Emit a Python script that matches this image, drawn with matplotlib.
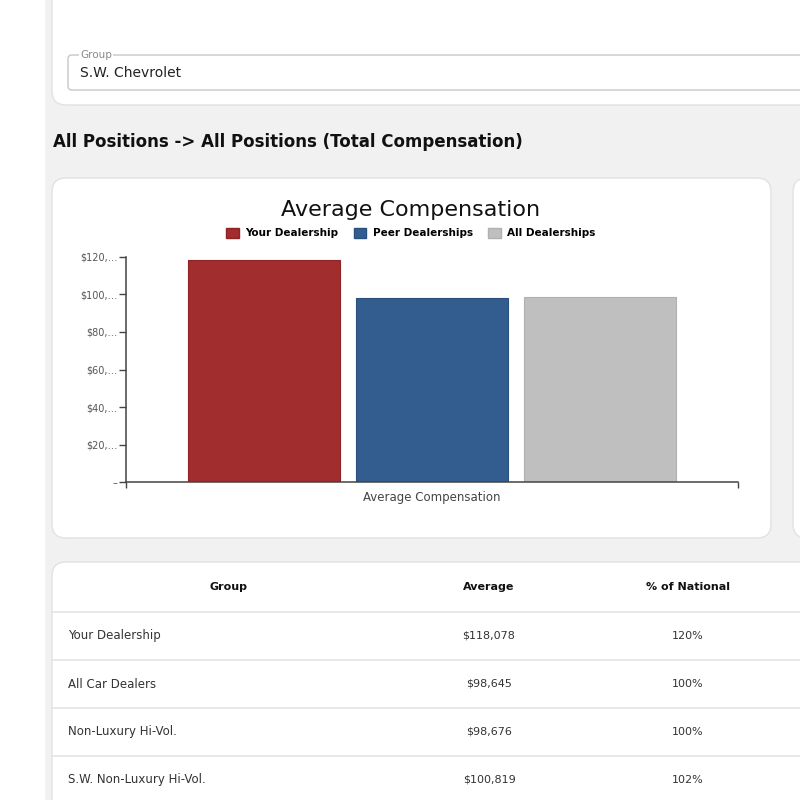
import matplotlib
matplotlib.use("Agg")
import matplotlib.pyplot as plt
from matplotlib.patches import FancyBboxPatch, Rectangle, Patch

plt.rcParams['font.family'] = ['DejaVu Sans']

# chart data
series_labels = ["Your Dealership", "Peer Dealerships", "All Dealerships"]
series_values = [118078, 97900, 98800]
series_colors = ["#a22d2f", "#345d8f", "#bfbfbf"]
series_edges = ["#8e2224", "#2a4f7c", "#b0b0b0"]
category = "Average Compensation"
y_ticks = [0, 20000, 40000, 60000, 80000, 100000, 120000]
y_ticklabels = ["–", "$20,…", "$40,…", "$60,…", "$80,…", "$100,…", "$120,…"]

# table data
table_cols = ["Group", "Average", "% of National"]
table_groups = ["Your Dealership", "All Car Dealers", "Non-Luxury Hi-Vol.", "S.W. Non-Luxury Hi-Vol."]
table_avgs = [118078, 98645, 98676, 100819]
table_pcts = [120, 100, 100, 102]

fig = plt.figure(figsize=(8, 8), dpi=100)
fig.patch.set_facecolor("#f1f1f1")

# page background drawn in pixel coords
bg = fig.add_axes([0, 0, 1, 1])
bg.set_xlim(0, 800)
bg.set_ylim(800, 0)
bg.axis("off")
bg.add_patch(Rectangle((0, 0), 44, 800, color="white", zorder=0))


def card(x0, y0, x1, y1, r=14):
    bg.add_patch(FancyBboxPatch((x0 + r, y0 + r), x1 - x0 - 2 * r, y1 - y0 - 2 * r,
                                boxstyle=f"round,pad={r}", fc="white", ec="#e2e2e2",
                                lw=1, zorder=1))


card(52, -40, 840, 105)
card(52, 178, 771, 538)
card(793, 178, 840, 538)
card(52, 562, 840, 840)

# group selector
bg.add_patch(FancyBboxPatch((68 + 4, 55 + 4), 760, 27, boxstyle="round,pad=4",
                            fc="white", ec="#c8c8c8", lw=1, zorder=2))
bg.text(80, 55, "Group", fontsize=7.5, color="#8a8a8a", va="center", zorder=3,
        bbox=dict(fc="white", ec="none", pad=1))
bg.text(80, 73, "S.W. Chevrolet", fontsize=10, color="#222222", va="center", zorder=3)

bg.text(53, 142, "All Positions -> All Positions (Total Compensation)", fontsize=12,
        fontweight="bold", color="#111111", va="center")

# chart title
bg.text(411, 210, "Average Compensation", fontsize=16, color="#111111",
        ha="center", va="center", zorder=3)

# table
for yy in [612, 660, 708, 756]:
    bg.plot([52, 800], [yy, yy], color="#e4e4e4", lw=1.2, zorder=2)
col_x = [229, 489, 688]
for cx, name in zip(col_x, table_cols):
    bg.text(cx, 587, name, fontsize=8, fontweight="bold", color="#111111",
            ha="center", va="center", zorder=3)
for i, (g, a, p) in enumerate(zip(table_groups, table_avgs, table_pcts)):
    yy = 636 + 48 * i
    bg.text(68, yy, g, fontsize=8.5, color="#333333", va="center", zorder=3)
    bg.text(col_x[1], yy, f"${a:,}", fontsize=8, color="#333333", ha="center", va="center", zorder=3)
    bg.text(col_x[2], yy, f"{p}%", fontsize=8, color="#333333", ha="center", va="center", zorder=3)

# bar chart
ax = fig.add_axes([126 / 800, (800 - 482.3) / 800, 612 / 800, 225.6 / 800])
ax.set_facecolor("none")
x = list(range(len(series_values)))
ax.bar(x, series_values, width=0.905, color=series_colors, edgecolor=series_edges, lw=0.8)
ax.set_xlim(-0.821, 2.821)
ax.set_ylim(0, 120000)
ax.set_yticks(y_ticks)
ax.set_yticklabels(y_ticklabels)
ax.set_xticks([1])
ax.set_xticklabels([category])
ax.set_xticks([-0.821, 2.821], minor=True)
for s in ["top", "right"]:
    ax.spines[s].set_visible(False)
for s in ["left", "bottom"]:
    ax.spines[s].set_color("#444444")
    ax.spines[s].set_linewidth(1.1)
ax.tick_params(axis="y", length=5, width=1, color="#444444", labelsize=7, labelcolor="#555555", pad=1)
ax.tick_params(axis="x", which="major", length=0, labelsize=8.5, labelcolor="#444444", pad=6)
ax.tick_params(axis="x", which="minor", length=4, width=1, color="#444444")

handles = [Patch(fc=c, ec=e) for c, e in zip(series_colors, series_edges)]
fig.legend(handles, series_labels, loc="center", bbox_to_anchor=(411 / 800, 1 - 233 / 800),
           ncol=3, frameon=False, handlelength=1.2, handleheight=1.2, handletextpad=0.6,
           columnspacing=1.5, prop=dict(size=7.5, weight="bold"))

fig.savefig("out.png", dpi=100, facecolor=fig.get_facecolor())
